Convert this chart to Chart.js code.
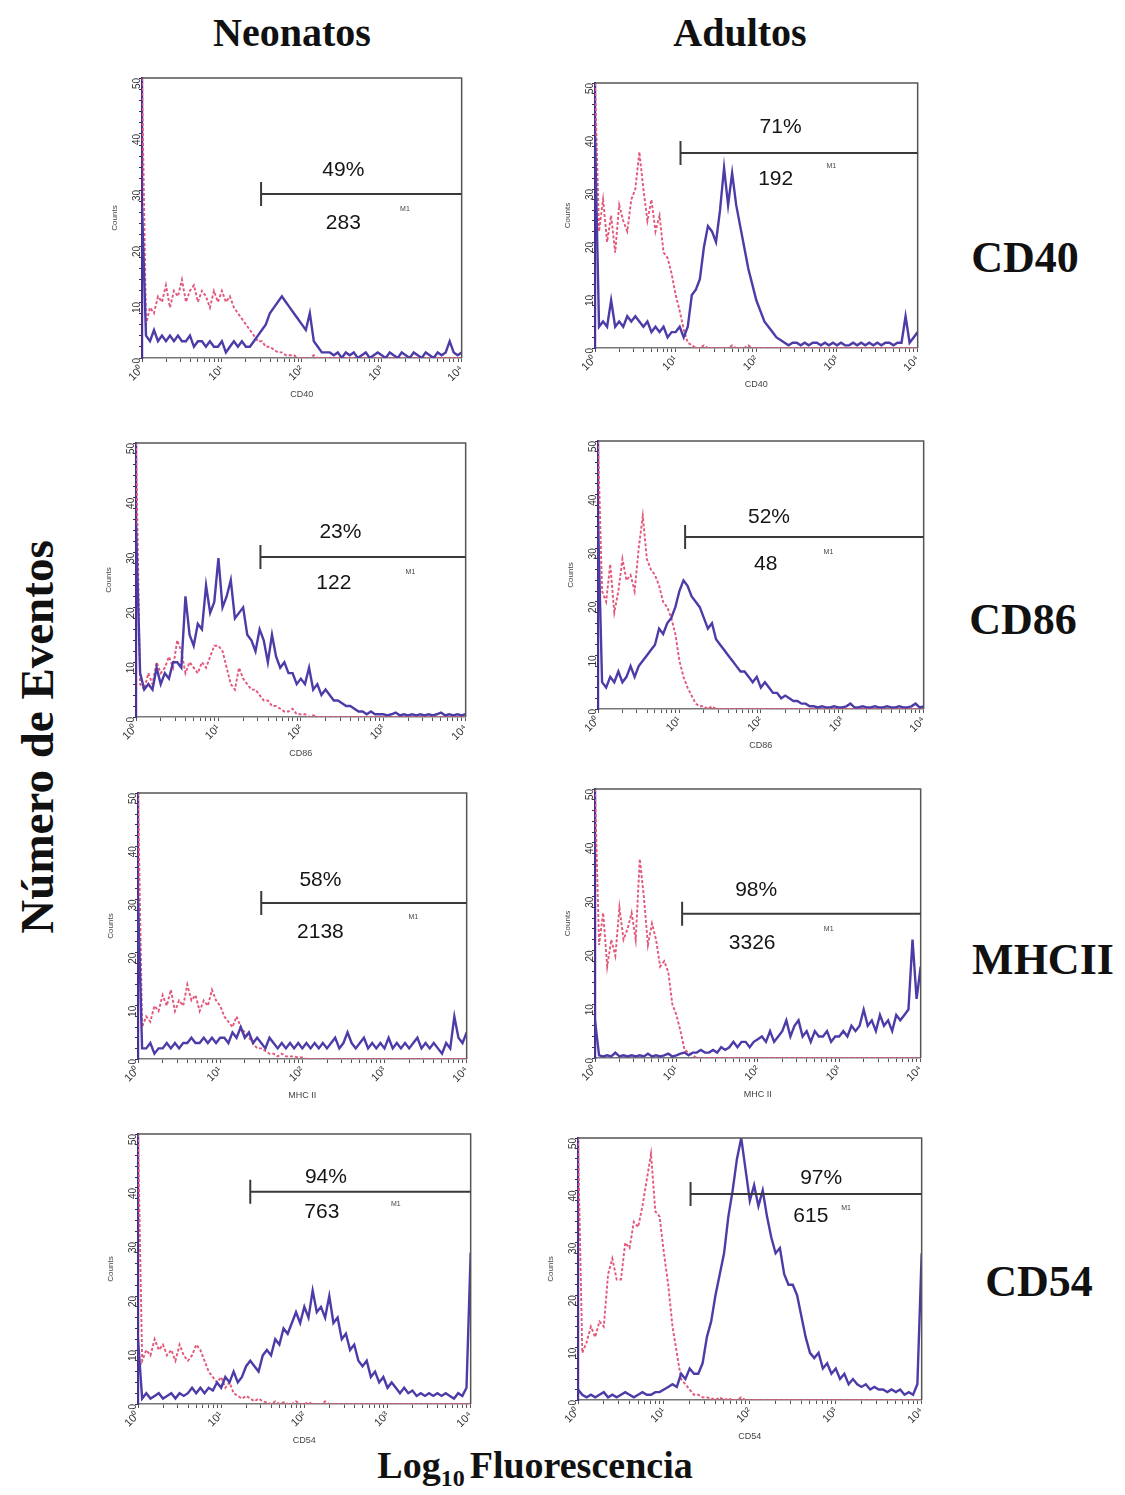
<!DOCTYPE html>
<html><head><meta charset="utf-8">
<script src="https://cdn.jsdelivr.net/npm/chart.js@4.4.1/dist/chart.umd.min.js"></script>
<style>
html,body{margin:0;padding:0;background:#fff;}
#fig{position:relative;width:1125px;height:1495px;overflow:hidden;background:#fff;}
.lab{position:absolute;font-family:"Liberation Serif","Times New Roman",serif;font-weight:bold;color:#111;line-height:1;white-space:nowrap;transform:translate(-50%,-50%);}
.pane{position:absolute;}
.pane canvas{display:block;}
</style></head><body><div id="fig">
<div class="lab" style="left:292px;top:33px;font-size:40px;">Neonatos</div>
<div class="lab" style="left:740px;top:33px;font-size:40px;">Adultos</div>
<div class="lab" style="left:1025px;top:258px;font-size:44px;">CD40</div>
<div class="lab" style="left:1023px;top:620px;font-size:44px;">CD86</div>
<div class="lab" style="left:1043px;top:960px;font-size:44px;">MHCII</div>
<div class="lab" style="left:1039px;top:1282px;font-size:44px;">CD54</div>
<div class="lab" style="left:37px;top:737px;font-size:47px;transform:translate(-50%,-50%) rotate(-90deg);">Número de Eventos</div>
<div class="lab" style="left:535px;top:1468px;font-size:38px;">Log<sub style="font-size:24px;vertical-align:-8px;margin-right:5px;">10</sub>Fluorescencia</div>
</div>
<script>
// ---- data ----
const channels = [0,0.05,0.1,0.15,0.2,0.25,0.3,0.35,0.4,0.45,
  0.5,0.55,0.6,0.65,0.7,0.75,0.8,0.85,0.9,0.95,
  1,1.05,1.1,1.15,1.2,1.25,1.3,1.35,1.4,1.45,
  1.5,1.55,1.6,1.65,1.7,1.75,1.8,1.85,1.9,1.95,
  2,2.05,2.1,2.15,2.2,2.25,2.3,2.35,2.4,2.45,
  2.5,2.55,2.6,2.65,2.7,2.75,2.8,2.85,2.9,2.95,
  3,3.05,3.1,3.15,3.2,3.25,3.3,3.35,3.4,3.45,
  3.5,3.55,3.6,3.65,3.7,3.75,3.8,3.85,3.9,3.95,
  4];
const groups = ['Neonatos','Adultos','Neonatos','Adultos','Neonatos','Adultos','Neonatos','Adultos'];
const markerNames = ['CD40','CD40','CD86','CD86','MHC II','MHC II','CD54','CD54'];
const percentLabels = ['49%','71%','23%','52%','58%','98%','94%','97%'];
const meanLabels = ['283','192','122','48','2138','3326','763','615'];
const gateStart = [1.49,1.06,1.51,1.07,1.50,1.07,1.35,1.31];
const gateLevel = [29.3,36.8,29.2,32.1,29.3,26.8,39.3,39.3];
const yTickValues = [0,10,20,30,40,50];
const xTickLabels = ['10\u2070','10\u00B9','10\u00B2','10\u00B3','10\u2074'];

const sampleNeoCD40 = [27,4,3,5,3,4,3,4,3,4,
  3,3,4,2,3,3,2,3,2,2,
  3,1,2,3,2,3,2,2,3,4,
  5,6,8,9,10,11,10,9,8,7,
  6,5,8,3,2,1,1,1,0.5,1,
  0,1,0.5,1,0,0.5,1,0,0.5,1,
  0.5,0,1,0.5,0,1,0.5,0,1,0.5,
  0,1,0.5,0,1,0.5,1,3,1,0.5,
  1];
const controlNeoCD40 = [50,6,9,8,11,10,13,9,12,11,
  14,10,12,13,10,12,11,9,12,10,
  12,10,11,9,8,7,6,5,4,3,
  3,2,2,1.5,1,1,0.5,0.5,0.5,0,
  0,0,0,0.5,0,0,0,0,0,0,
  0,0,0,0,0,0,0,0,0,0,
  0,0,0,0,0,0,0,0,0,0,
  0,0,0,0,0,0,0,0,0,0,
  0];
const sampleAduCD40 = [40,4,5,4,9,4,5,4,6,5,
  6,5,4,5,3,4,3,4,2,3,
  3,4,2,4,10,11,13,19,23,22,
  20,26,34,27,33,27,23,19,15,12,
  9,7,5,4,3,2,1.5,1,0.5,1,
  1,0.5,1,0.5,1,1,0.5,1,0.5,1,
  0.5,1,0.5,0.5,1,0.5,1,0.5,1,0.5,
  1,0.5,1,1,0.5,1,1,6,1,2,
  3];
const controlAduCD40 = [50,22,28,20,25,18,27,24,22,28,
  30,37,30,24,28,22,25,18,17,14,
  10,7,3.5,1,0.5,0,0,0.5,0,0,
  0,0,0,0,0.5,0,0,0,0.5,0,
  0,0,0,0,0,0,0,0,0,0,
  0,0,0,0,0,0,0,0,0,0,
  0,0,0,0,0,0,0,0,0,0,
  0,0,0,0,0,0,0,0,0,0,
  0];
const sampleNeoCD86 = [35,8,5,6,5,9,6,8,7,10,
  10,9,22,15,13,17,16,24,19,21,
  29,20,22,25,18,19,20,15,14,12,
  16,14,10,15,11,9,10,8,8,6,
  7,6,9,5,6,4,5,4,3,3,
  2.5,2,2,1.5,1,1,0.5,1,0.5,0.5,
  0.5,0.3,0.5,0.8,0.3,0.5,0.3,0.5,0.3,0.5,
  0.3,0.5,0.3,0.5,0.8,0.3,0.5,0.3,0.5,0.3,
  0.5];
const controlNeoCD86 = [50,6,5,8,6,10,8,9,11,9,
  14,12,8,10,9,8,10,9,11,13,
  13,12,9,6,5,9,7,6,5,5,
  4,3,3,2,2,1.5,1,1,1.5,0.5,
  0.5,0.5,0,0.3,0,0,0,0,0,0,
  0,0,0,0,0,0,0,0,0,0,
  0,0,0,0,0,0,0,0,0,0,
  0,0,0,0,0,0,0,0,0,0,
  0];
const sampleAduCD86 = [35,5,4,6,5,7,5,6,8,6,
  8,9,10,11,12,15,14,16,17,19,
  22,24,23,21,20,19,17,15,16,13,
  12,11,10,9,8,7,7,6,5,6,
  4,5,4,3,3,2,2.5,2,1.5,1.5,
  1,1,0.5,0.5,0.3,0.5,0.3,0.3,0.5,0.3,
  0.3,0.5,1,0.3,0.3,0.5,0.3,0.3,0.5,0.3,
  0.3,0.5,0.3,0.3,0.5,0.3,0.3,0.5,1,0.3,
  0.5];
const controlAduCD86 = [50,22,20,27,18,22,28,24,25,22,
  30,36,28,26,25,23,20,19,17,14,
  9,6,4,2.5,1,0.5,0.5,0,0.5,0,
  0,0,0,0,0,0,0,0,0,0,
  0,0,0,0,0,0,0,0,0,0,
  0,0,0,0,0,0,0,0,0,0,
  0,0,0,0,0,0,0,0,0,0,
  0,0,0,0,0,0,0,0,0,0,
  0];
const sampleNeoMHC = [30,2,2,3,1,2,2,3,2,3,
  2,3,3,4,3,3,4,3,4,3,
  4,4,3,5,4,6,4,5,3,4,
  3,2,4,3,2,3,2,3,2,3,
  2,3,2,3,2,3,2,3,4,2,
  3,5,3,2,3,4,2,3,2,3,
  2,4,2,3,2,3,2,3,4,2,
  3,2,3,2,1,3,2,8,4,3,
  5];
const controlNeoMHC = [50,6,8,7,10,9,12,10,13,9,
  11,10,14,11,12,9,11,10,13,11,
  10,8,7,6,8,6,5,4,3,2,
  2,1.5,1,1,0.5,1,0.5,0.5,0.5,0.3,
  0.3,0,0,0,0,0,0,0,0,0,
  0,0,0,0,0,0,0,0,0,0,
  0,0,0,0,0,0,0,0,0,0,
  0,0,0,0,0,0,0,0,0,0,
  0];
const sampleAduMHC = [7,0.5,0.3,0.5,0.3,1,0.3,0.5,0.3,0.5,
  0.3,0.5,0.3,0.8,0.3,0.5,0.3,0.5,0.8,0.3,
  0.5,0.8,1,0.5,1,1,1.5,1,1,1.5,
  1,2,1.5,2,3,2,3,3,2,3,
  3.5,4,3,5,3,4,5,7,4,6,
  7,4,5,3,5,4,4,5,3,4,
  4,5,4,6,5,6,9,6,7,5,
  8,6,7,5,8,7,8,9,22,11,
  17];
const controlAduMHC = [50,21,27,17,22,19,28,22,24,27,
  22,37,30,21,25,22,17,18,16,10,
  8,5,1.5,1,0.5,0,0,0,0,0,
  0,0,0,0,0,0,0,0,0,0,
  0,0,0,0,0,0,0,0,0,0,
  0,0,0,0,0,0,0,0,0,0,
  0,0,0,0,0,0,0,0,0,0,
  0,0,0,0,0,0,0,0,0,0,
  0];
const sampleNeoCD54 = [12,1,2,1,1.5,2,1,1.5,2,1,
  2,1.5,2,3,2,3,2,3,2.5,4,
  3,5,4,6,4,5,7,8,7,6,
  9,10,9,12,11,14,13,15,17,15,
  18,16,21,17,18,16,20,15,16,12,
  13,10,11,8,7,8,5,6,4,5,
  3,4,3,2,3,2,2.5,1.5,2,1.5,
  2,1.5,2,1.5,2,1.5,1,2,1.5,3,
  28];
const controlNeoCD54 = [50,8,10,9,12,10,11,9,10,8,
  11,9,8,9,11,10,8,6,5,4,
  5,3,4,2,1.5,1,1.5,1,0.5,1,
  0.5,0.3,0,0.5,0,0.3,0,0,0.5,0,
  0,0.3,0,0,0,0.5,0,0,0,0,
  0,0,0,0,0,0,0,0,0,0,
  0,0,0,0,0,0,0,0,0,0,
  0,0,0,0,0,0,0,0,0,0,
  0];
const sampleAduCD54 = [2,1,0.5,1,0.5,1,1.5,0.5,1,0.5,
  1,1.5,1,0.5,1,1.5,1,1,1.5,1.5,
  2,2.5,3,2.5,5,4,6,5,5,7,
  12,15,20,24,28,35,40,46,50,44,
  38,41,37,40,35,31,28,29,24,22,
  22,20,16,12,9,8,9,6,7,5,
  6,4,5,3,4,3,2.5,3,2,2.5,
  2,2,1.5,2,1.5,2,1,1.5,1,3,
  28];
const controlAduCD54 = [50,9,11,14,12,15,14,24,27,23,
  23,30,29,34,33,37,42,47,36,35,
  28,22,14,9,4,3,2,1,1,0.5,
  0.5,0.3,0,0.5,0,0.3,0,0,0.5,0,
  0,0,0,0,0,0,0,0,0,0,
  0,0,0,0,0,0,0,0,0,0,
  0,0,0,0,0,0,0,0,0,0,
  0,0,0,0,0,0,0,0,0,0,
  0];

const samples = [sampleNeoCD40,sampleAduCD40,sampleNeoCD86,sampleAduCD86,sampleNeoMHC,sampleAduMHC,sampleNeoCD54,sampleAduCD54];
const controls = [controlNeoCD40,controlAduCD40,controlNeoCD86,controlAduCD86,controlNeoMHC,controlAduMHC,controlNeoCD54,controlAduCD54];

// ---- layout (page pixels of each plot area: left, top, right, bottom) ----
const plotBoxes = [[142,78,464,358],[595,83,920,348],[136,443,468,717],[598,441,926,709],
  [138,793,469,1059],[595,789,923,1058],[138,1134,473,1404],[578,1138,924,1400]];
// label anchors in data units [x(decades), y(counts)]
const pctPos  = [[2.52,33.6],[2.30,41.7],[2.48,33.8],[2.10,35.8],[2.22,33.6],[1.98,31.2],[2.26,42.0],[2.83,42.4]];
const meanPos = [[2.52,24.1],[2.24,31.9],[2.40,24.5],[2.06,27.1],[2.22,23.9],[1.93,21.4],[2.21,35.6],[2.71,35.0]];
const m1Pos   = [[3.29,26.6],[2.93,34.3],[3.33,26.5],[2.83,29.3],[3.35,26.7],[2.87,24.0],[3.10,37.0],[3.12,36.6]];

// log minor tick positions for the decade axis
const xTickPositions = [];
for (let d = 0; d < 4; d++) { xTickPositions.push(d); for (let k = 2; k <= 9; k++) xTickPositions.push(d + Math.log10(k)); }
xTickPositions.push(4);

const gatePlugin = {
  id: 'gate',
  afterDatasetsDraw(chart, args, o) {
    const {ctx, chartArea: a, scales: {x, y}} = chart;
    ctx.save();
    ctx.strokeStyle = '#555'; ctx.lineWidth = 1.5;
    ctx.beginPath(); ctx.moveTo(a.left, a.top); ctx.lineTo(a.right, a.top); ctx.lineTo(a.right, a.bottom); ctx.stroke();
    const x0 = x.getPixelForValue(o.start), x1 = x.getPixelForValue(4), gy = y.getPixelForValue(o.level);
    ctx.strokeStyle = '#3a3a3a'; ctx.lineWidth = 2;
    ctx.beginPath(); ctx.moveTo(x0, gy); ctx.lineTo(x1, gy); ctx.moveTo(x0, gy - 12); ctx.lineTo(x0, gy + 12); ctx.stroke();
    ctx.fillStyle = '#151515'; ctx.textAlign = 'center'; ctx.textBaseline = 'middle';
    ctx.font = '21px "Liberation Sans", Arial, sans-serif';
    ctx.fillText(o.pct, x.getPixelForValue(o.pctPos[0]), y.getPixelForValue(o.pctPos[1]));
    ctx.fillText(o.mean, x.getPixelForValue(o.meanPos[0]), y.getPixelForValue(o.meanPos[1]));
    ctx.font = '7px "Liberation Sans", Arial, sans-serif'; ctx.fillStyle = '#444';
    ctx.fillText('M1', x.getPixelForValue(o.m1Pos[0]), y.getPixelForValue(o.m1Pos[1]));
    ctx.restore();
  }
};

const fig = document.getElementById('fig');
const yW = 32, xH = 42, padT = 8, padR = 8;
for (let i = 0; i < 8; i++) {
  const [L, T, R, B] = plotBoxes[i];
  const W = R - L + yW + padR, H = B - T + padT + xH;
  const div = document.createElement('div'); div.className = 'pane';
  div.style.left = (L - yW) + 'px'; div.style.top = (T - padT) + 'px';
  div.style.width = W + 'px'; div.style.height = H + 'px';
  const cv = document.createElement('canvas'); cv.width = W; cv.height = H;
  div.appendChild(cv); fig.appendChild(div);
  const chart = new Chart(cv, {
    type: 'line',
    data: { datasets: [
      { label: 'Muestra ' + groups[i], data: channels.map((c, k) => ({x: c, y: samples[i][k]})),
        borderColor: '#4b3ca8', borderWidth: 2.4, pointRadius: 0, tension: 0, order: 1 },
      { label: 'Control', data: channels.map((c, k) => ({x: c, y: controls[i][k]})),
        borderColor: '#e2587a', borderWidth: 1.9, borderDash: [3, 2], pointRadius: 0, tension: 0, order: 2 }
    ]},
    options: {
      responsive: false, animation: false,
      layout: { autoPadding: false, padding: { top: padT, right: padR, left: 0, bottom: 0 } },
      plugins: {
        legend: { display: false }, tooltip: { enabled: false },
        gate: { start: gateStart[i], level: gateLevel[i], pct: percentLabels[i], mean: meanLabels[i],
                pctPos: pctPos[i], meanPos: meanPos[i], m1Pos: m1Pos[i] }
      },
      scales: {
        x: {
          type: 'linear', min: 0, max: 4,
          afterBuildTicks: s => { s.ticks = xTickPositions.map(v => ({value: v})); },
          afterFit: s => { s.height = xH; },
          ticks: { autoSkip: false, minRotation: 45, maxRotation: 45, padding: 1, color: '#333',
                   font: { size: 11, family: '"Liberation Sans", Arial' },
                   callback: v => Number.isInteger(v) ? xTickLabels[v] : '' },
          grid: { drawOnChartArea: false, drawTicks: true, tickLength: 4, color: '#555' },
          border: { display: true, color: '#777', width: 1.5 },
          title: { display: true, text: markerNames[i], color: '#444', padding: 0,
                   font: { size: 9, family: '"Liberation Sans", Arial' } }
        },
        y: {
          type: 'linear', min: 0, max: 50,
          afterFit: s => { s.width = yW; },
          ticks: { stepSize: 2, autoSkip: false, minRotation: 90, maxRotation: 90, padding: 2, color: '#333',
                   font: { size: 10, family: '"Liberation Sans", Arial' },
                   callback: v => yTickValues.includes(v) ? String(v) : '' },
          grid: { drawOnChartArea: false, drawTicks: true, tickLength: 3, color: '#333' },
          border: { display: true, color: '#4a2f94', width: 2.2 },
          title: { display: true, text: 'Counts', color: '#444', padding: 0,
                   font: { size: 8, family: '"Liberation Sans", Arial' } }
        }
      }
    },
    plugins: [gatePlugin]
  });
  // align the library's plot area with the intended page box
  const a = chart.chartArea;
  const dW = (R - L) - (a.right - a.left), dH = (B - T) - (a.bottom - a.top);
  const dl = a.left - yW, dt = a.top - padT;
  if (dW || dH || dl || dt) {
    div.style.left = (L - yW - dl) + 'px'; div.style.top = (T - padT - dt) + 'px';
    div.style.width = (W + dW) + 'px'; div.style.height = (H + dH) + 'px';
    chart.resize(W + dW, H + dH);
  }
}
</script>
</body></html>
